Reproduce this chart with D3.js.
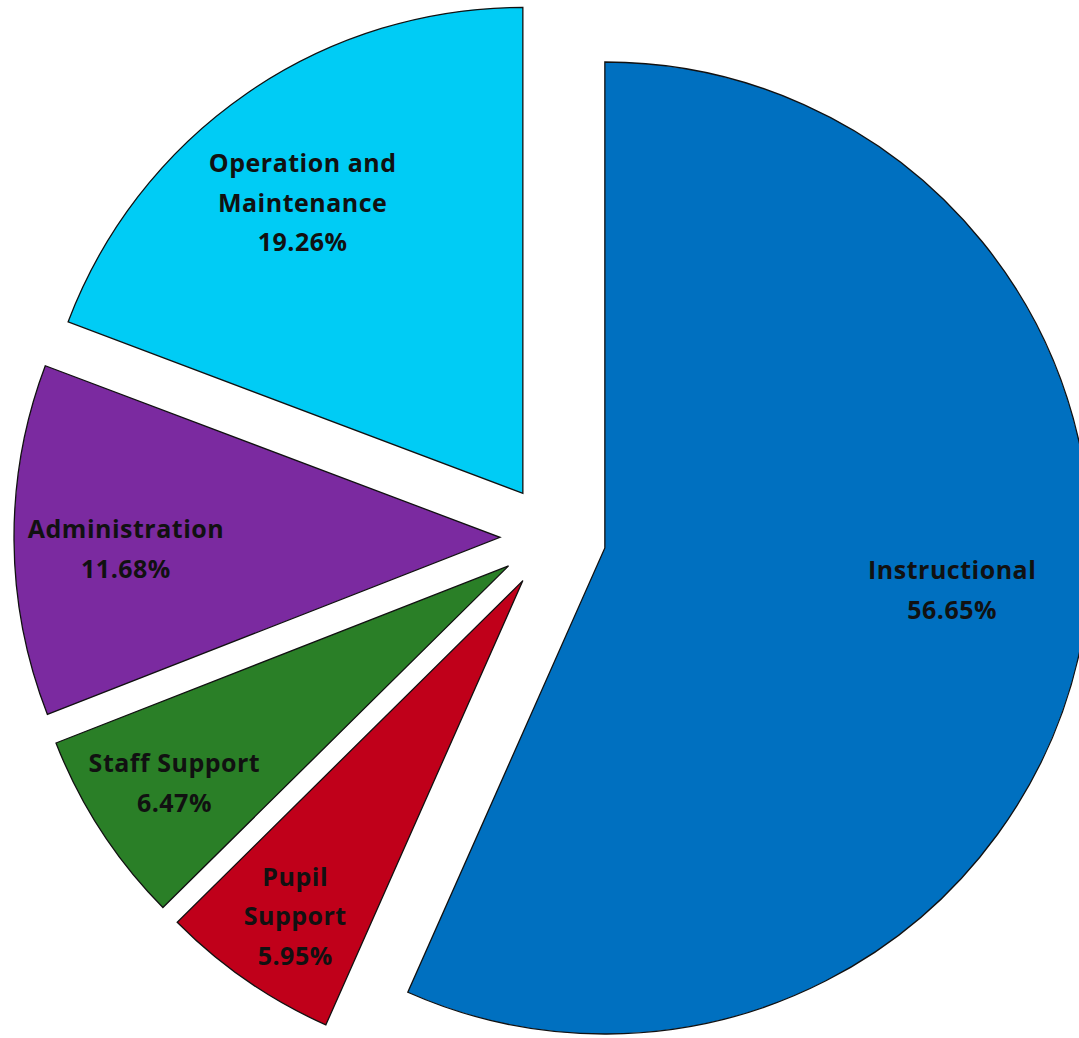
<!DOCTYPE html>
<html>
<head>
<meta charset="utf-8">
<script src="https://cdn.jsdelivr.net/npm/d3@7"></script>
<style>
  body { margin: 0; background: white; }
  .label { font-family: "Open Sans", Lato, sans-serif; font-weight: bold; fill: #111; letter-spacing: 0.5px; }
</style>
</head>
<body>
<div id="chart"></div>
<script>
// Data
const categories = ["Instructional", "Pupil Support", "Staff Support", "Administration", "Operation and Maintenance"];
const shares = [56.65, 5.95, 6.47, 11.68, 19.26];
const labelLines = [
  ["Instructional"],
  ["Pupil", "Support"],
  ["Staff Support"],
  ["Administration"],
  ["Operation and", "Maintenance"]
];
const colors = ["#0070C0", "#C0001A", "#2A7F27", "#7B2AA0", "#00CCF5"];

const width = 1079;
const height = 1038;
const radius = 486;
const explode = 53;
const cx = 553, cy = 537;

// label placement: fraction of radius from slice tip, angle nudge (deg)
const labelFrac = [0.72, 0.835, 0.82, 0.77, 0.75];
const labelNudge = [-5, -0.5, 0, -1.5, -2.5];

const svg = d3.select("#chart").append("svg")
  .attr("width", width).attr("height", height);

const pie = d3.pie().sort(null).value(d => d);
const arcs = pie(shares);
const arc = d3.arc().innerRadius(0).outerRadius(radius);

const g = svg.append("g").attr("transform", `translate(${cx},${cy})`);

function dirOf(a) { return [Math.sin(a), -Math.cos(a)]; }

const slice = g.selectAll(".slice")
  .data(arcs)
  .enter().append("g")
  .attr("class", "slice")
  .attr("transform", d => {
    const [dx, dy] = dirOf((d.startAngle + d.endAngle) / 2);
    return `translate(${dx * explode},${dy * explode})`;
  });

slice.append("path")
  .attr("d", arc)
  .attr("fill", (d, i) => colors[i])
  .attr("stroke", "#111")
  .attr("stroke-width", 1.3)
  .attr("stroke-linejoin", "miter");

slice.each(function (d, i) {
  const mid = (d.startAngle + d.endAngle) / 2 + labelNudge[i] * Math.PI / 180;
  const [dx, dy] = dirOf(mid);
  const r = radius * labelFrac[i];
  const lines = labelLines[i].concat([shares[i].toFixed(2) + "%"]);
  const lh = 39.5;
  const t = d3.select(this).append("text")
    .attr("class", "label")
    .attr("text-anchor", "middle")
    .attr("font-size", 25)
    .attr("x", dx * r)
    .attr("y", dy * r - (lines.length - 1) * lh / 2);
  t.selectAll("tspan")
    .data(lines)
    .enter().append("tspan")
    .attr("x", dx * r)
    .attr("dy", (l, j) => j === 0 ? "0.35em" : lh)
    .text(l => l);
});
</script>
</body>
</html>
